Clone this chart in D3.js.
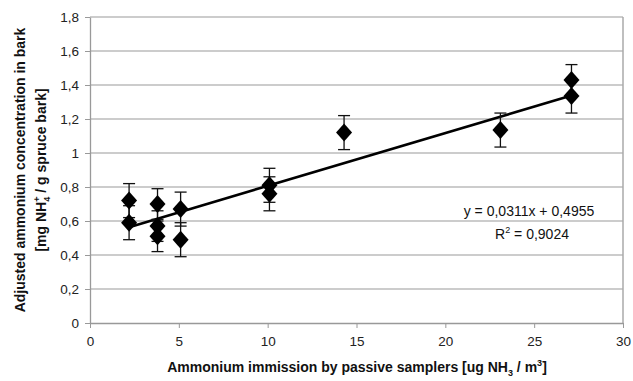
<!DOCTYPE html>
<html>
<head>
<meta charset="utf-8">
<script src="https://cdn.jsdelivr.net/npm/d3@7"></script>
<style>
    body { margin: 0; background: #fff; }
    text { font-family: "Liberation Sans", Arial, sans-serif; }
    .axis path, .axis line { stroke: #999; }
    .axis text { font-size: 13.5px; fill: #222; }
    .grid line { stroke: #9a9a9a; stroke-width: 1.2; }
    .title { font-size: 14px; font-weight: bold; fill: #111; }
</style>
</head>
<body>
<svg width="633" height="381"></svg>
<script>
    // measured samples: NH3 immission (x), NH4+ in bark (y), error (+/-)
    var immission = [2.2, 2.2, 3.8, 3.8, 3.8, 5.1, 5.1, 10.1, 10.1, 14.3, 23.1, 27.1, 27.1];
    var barkConc = [0.72, 0.59, 0.70, 0.57, 0.51, 0.67, 0.49, 0.81, 0.76, 1.12, 1.135, 1.43, 1.335];
    var errorBar = [0.10, 0.10, 0.09, 0.09, 0.09, 0.10, 0.10, 0.10, 0.10, 0.10, 0.10, 0.09, 0.10];

    var trendSlope = 0.0311;
    var trendIntercept = 0.4955;
    var trendRange = [2.2, 27.1];

    var xTicks = [0, 5, 10, 15, 20, 25, 30];
    var yTicks = [0, 0.2, 0.4, 0.6, 0.8, 1, 1.2, 1.4, 1.6, 1.8];

    var svg = d3.select("svg");
    var margin = { top: 17, right: 10, bottom: 58, left: 90 };
    var width = +svg.attr("width") - margin.left - margin.right;
    var height = +svg.attr("height") - margin.top - margin.bottom;

    var xScale = d3.scaleLinear().domain([0, 30]).range([0, width]);
    var yScale = d3.scaleLinear().domain([0, 1.8]).range([height, 0]);
    var comma = function (d) { return String(+d.toFixed(1)).replace(".", ","); };

    var g = svg.append("g")
        .attr("transform", "translate(" + margin.left + "," + margin.top + ")");

    g.append("g")
        .attr("class", "grid")
        .selectAll("line")
        .data(yTicks.slice(1))
        .enter().append("line")
        .attr("x1", 0)
        .attr("x2", width)
        .attr("y1", function (d) { return yScale(d); })
        .attr("y2", function (d) { return yScale(d); });

    g.append("line")
        .attr("x1", width).attr("x2", width)
        .attr("y1", 0).attr("y2", height)
        .attr("stroke", "#aaa").attr("stroke-width", 1.5);

    g.append("g")
        .attr("class", "axis axis-x")
        .attr("transform", "translate(0," + height + ")")
        .call(d3.axisBottom(xScale).tickValues(xTicks).tickSizeInner(5).tickSizeOuter(0).tickPadding(8));

    g.append("g")
        .attr("class", "axis axis-y")
        .call(d3.axisLeft(yScale).tickValues(yTicks).tickFormat(comma).tickSizeInner(5).tickSizeOuter(0).tickPadding(6));

    g.selectAll(".domain").attr("stroke-width", 1.3);

    // trend line
    g.append("line")
        .attr("x1", xScale(trendRange[0]))
        .attr("y1", yScale(trendSlope * trendRange[0] + trendIntercept))
        .attr("x2", xScale(trendRange[1]))
        .attr("y2", yScale(trendSlope * trendRange[1] + trendIntercept))
        .attr("stroke", "#000")
        .attr("stroke-width", 2.6);

    var points = immission.map(function (x, i) {
        return { x: x, y: barkConc[i], e: errorBar[i] };
    });

    var errs = g.append("g").attr("stroke", "#111").attr("stroke-width", 1.3);
    points.forEach(function (d) {
        var cx = xScale(d.x);
        errs.append("line")
            .attr("x1", cx).attr("x2", cx)
            .attr("y1", yScale(d.y + d.e)).attr("y2", yScale(d.y - d.e));
        [d.y + d.e, d.y - d.e].forEach(function (v) {
            errs.append("line")
                .attr("x1", cx - 6).attr("x2", cx + 6)
                .attr("y1", yScale(v)).attr("y2", yScale(v));
        });
    });

    g.selectAll(".point")
        .data(points)
        .enter().append("path")
        .attr("class", "point")
        .attr("d", "M0,-9L8,0L0,9L-8,0Z")
        .attr("fill", "#000")
        .attr("transform", function (d) { return "translate(" + xScale(d.x) + "," + yScale(d.y) + ")"; });

    // regression label
    var eq = g.append("g").attr("font-size", 14).attr("fill", "#111").attr("text-anchor", "middle");
    eq.append("text")
        .attr("x", 439).attr("y", 199)
        .text("y = 0,0311x + 0,4955");
    var r2 = eq.append("text").attr("x", 442).attr("y", 222);
    r2.append("tspan").text("R");
    r2.append("tspan").attr("font-size", 9).attr("dy", -6).text("2");
    r2.append("tspan").attr("dy", 6).text(" = 0,9024");

    // axis titles
    var xt = svg.append("text")
        .attr("class", "title")
        .attr("text-anchor", "middle")
        .attr("x", 357).attr("y", 372);
    xt.append("tspan").text("Ammonium immission by passive samplers [ug NH");
    xt.append("tspan").attr("font-size", 9).attr("dy", 4).text("3");
    xt.append("tspan").attr("dy", -4).text(" / m");
    xt.append("tspan").attr("font-size", 9).attr("dy", -6).text("3");
    xt.append("tspan").attr("dy", 6).text("]");

    var yt = svg.append("g")
        .attr("transform", "translate(0,170) rotate(-90)");
    yt.append("text")
        .attr("class", "title")
        .attr("text-anchor", "middle")
        .attr("x", 0).attr("y", 25)
        .text("Adjusted ammonium concentration in bark");
    var yt2 = yt.append("text")
        .attr("class", "title")
        .attr("text-anchor", "middle")
        .attr("x", 0).attr("y", 46);
    yt2.append("tspan").text("[mg NH");
    yt2.append("tspan").attr("font-size", 9).attr("dy", 4).text("4");
    yt2.append("tspan").attr("font-size", 9).attr("dy", -10).attr("dx", -5).text("+");
    yt2.append("tspan").attr("dy", 6).text(" / g spruce bark]");
</script>
</body>
</html>
